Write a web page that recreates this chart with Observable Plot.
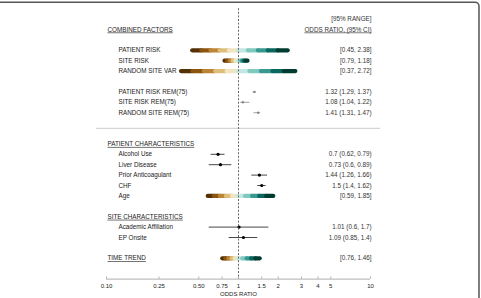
<!DOCTYPE html>
<html>
<head>
<meta charset="utf-8">
<script src="https://cdn.jsdelivr.net/npm/d3@7"></script>
<script src="https://cdn.jsdelivr.net/npm/@observablehq/plot@0.6"></script>
<style>
  body { margin: 0; background: #fff; }
  #chart svg { display: block; }
</style>
</head>
<body>
<div id="chart"></div>
<script>
// Row order of the forest plot (empty strings are spacer rows)
const rowOrder = [
  "COMBINED FACTORS", "",
  "PATIENT RISK", "SITE RISK", "RANDOM SITE VAR", "",
  "PATIENT RISK REM(75)", "SITE RISK REM(75)", "RANDOM SITE REM(75)", "", "",
  "PATIENT CHARACTERISTICS",
  "Alcohol Use", "Liver Disease", "Prior Anticoagulant", "CHF", "Age", "",
  "SITE CHARACTERISTICS",
  "Academic Affiliation", "EP Onsite", "",
  "TIME TREND"
];
const sectionHeaders = ["COMBINED FACTORS", "PATIENT CHARACTERISTICS", "SITE CHARACTERISTICS", "TIME TREND"];

// 95% ranges (drawn as diverging colour bars)
const rangeLabels = ["PATIENT RISK", "SITE RISK", "RANDOM SITE VAR", "Age", "TIME TREND"];
const rangeLow  = [0.45, 0.79, 0.37, 0.59, 0.76];
const rangeHigh = [2.38, 1.18, 2.72, 1.85, 1.46];

// Odds ratios with 95% confidence intervals
const estLabels = ["PATIENT RISK REM(75)", "SITE RISK REM(75)", "RANDOM SITE REM(75)",
  "Alcohol Use", "Liver Disease", "Prior Anticoagulant", "CHF",
  "Academic Affiliation", "EP Onsite"];
const estOR   = [1.32, 1.08, 1.41, 0.7, 0.73, 1.44, 1.5, 1.01, 1.09];
const estLow  = [1.29, 1.04, 1.31, 0.62, 0.6, 1.26, 1.4, 0.6, 0.85];
const estHigh = [1.37, 1.22, 1.47, 0.79, 0.89, 1.66, 1.62, 1.7, 1.4];

// Axis
const xTicks = [0.1, 0.25, 0.5, 0.75, 1, 1.5, 2, 3, 4, 5, 10];
const xTickLabels = ["0.10", "0.25", "0.50", "0.75", "1", "1.5", "2", "3", "4", "5", "10"];
const xTitle = "ODDS RATIO";

const row = label => rowOrder.indexOf(label);
const axisRow = rowOrder.length + 1;

const ranges = rangeLabels.map((label, i) => ({label, lo: rangeLow[i], hi: rangeHigh[i]}));
const estimates = estLabels.map((label, i) => ({label, or: estOR[i], lo: estLow[i], hi: estHigh[i]}));
const isREM = d => d.label.includes("REM");
const remEst = estimates.filter(isREM);
const mainEst = estimates.filter(d => !isREM(d));

// Split each range bar into five log-spaced pieces per side of 1
const nSeg = 5;
const segments = [];
for (const r of ranges) {
  const l0 = Math.log10(r.lo), h0 = Math.log10(r.hi);
  for (let k = 0; k < nSeg; k++) {
    segments.push({label: r.label,
      x1: 10 ** (l0 * (1 - k / nSeg)), x2: 10 ** (l0 * (1 - (k + 1) / nSeg)),
      color: d3.interpolateBrBG(k / 10)});
  }
  for (let k = 0; k < nSeg; k++) {
    segments.push({label: r.label,
      x1: 10 ** (h0 * k / nSeg), x2: 10 ** (h0 * (k + 1) / nSeg),
      color: d3.interpolateBrBG(0.6 + k / 10)});
  }
}

const rightText = [
  ...ranges.map(r => ({label: r.label, text: `[${r.lo}, ${r.hi}]`})),
  ...estimates.map(e => ({label: e.label, text: `${e.or} (${e.lo}, ${e.hi})`}))
];
const itemLabels = rowOrder.filter(d => d && !sectionHeaders.includes(d));
const sepRow = (row("RANDOM SITE REM(75)") + row("PATIENT CHARACTERISTICS")) / 2;

const font = "Liberation Sans, Arial, sans-serif";
const fs = 6.3;

const chart = Plot.plot({
  width: 481,
  height: 298,
  marginTop: 0, marginRight: 0, marginBottom: 0, marginLeft: 0,
  style: {fontFamily: font, fontSize: fs + "px", background: "#fff"},
  x: {type: "log", domain: [0.1, 10], range: [106, 370], axis: null},
  y: {domain: [-2, 24], range: [8.2, 278.6], axis: null},
  color: {type: "identity"},
  marks: [
    // section separator
    Plot.ruleY([sepRow], {stroke: "#bbb", strokeWidth: 0.8, insetLeft: 96, insetRight: 101}),
    // range bars
    Plot.ruleY(segments, {y: d => row(d.label), x1: "x1", x2: "x2", stroke: "color",
      strokeWidth: 4.2, strokeLinecap: "round"}),
    // confidence intervals
    Plot.ruleY(remEst, {y: d => row(d.label), x1: "lo", x2: "hi", stroke: "#999", strokeWidth: 0.9}),
    Plot.ruleY(mainEst, {y: d => row(d.label), x1: "lo", x2: "hi", stroke: "#333", strokeWidth: 0.9}),
    Plot.dot(remEst, {y: d => row(d.label), x: "or", r: 1.2, fill: "#888", stroke: "none"}),
    Plot.dot(mainEst, {y: d => row(d.label), x: "or", r: 1.6, fill: "#000", stroke: "none"}),
    // reference line at OR = 1
    Plot.ruleX([1], {y1: -2, y2: axisRow, stroke: "#666", strokeWidth: 1, strokeDasharray: "2,1.6"}),
    // x axis
    Plot.ruleY([axisRow], {x1: xTicks[0], x2: xTicks[xTicks.length - 1], stroke: "#999", strokeWidth: 0.8}),
    Plot.ruleX(xTicks, {y1: axisRow, y2: axisRow - 0.2, stroke: "#999", strokeWidth: 0.8}),
    Plot.text(xTicks, {x: d => d, y: axisRow, dy: 6.5, text: (d, i) => xTickLabels[i],
      fill: "#222", fontSize: 6}),
    Plot.text([xTitle], {x: 1, y: axisRow, dy: 14.5, text: d => d, fill: "#222", fontSize: 6}),
    // labels
    Plot.text(sectionHeaders, {y: row, text: d => d, frameAnchor: "left", dx: 107,
      textAnchor: "start", fill: "#222"}),
    Plot.text(itemLabels, {y: row, text: d => d, frameAnchor: "left", dx: 118,
      textAnchor: "start", fill: "#222"}),
    // value column
    Plot.text(rightText, {y: d => row(d.label), text: "text", frameAnchor: "left", dx: 371,
      textAnchor: "end", fill: "#333"}),
    Plot.text(["[95% RANGE]"], {y: -1, text: d => d, frameAnchor: "left", dx: 371,
      textAnchor: "end", fill: "#333"}),
    Plot.text(["ODDS RATIO, (95% CI)"], {y: 0, text: d => d, frameAnchor: "left", dx: 371,
      textAnchor: "end", fill: "#333"})
  ]
});

// underline headings
const underlined = [...sectionHeaders, "ODDS RATIO, (95% CI)"];
d3.select(chart).selectAll("text")
  .filter(function () { return underlined.includes(this.textContent); })
  .style("text-decoration", "underline");

// rounded panel border
d3.select(chart).append("rect")
  .attr("x", -6).attr("y", 2.2).attr("width", 485).attr("height", 320)
  .attr("rx", 4).attr("fill", "none").attr("stroke", "#555").attr("stroke-width", 1.5);

document.getElementById("chart").append(chart);
</script>
</body>
</html>
